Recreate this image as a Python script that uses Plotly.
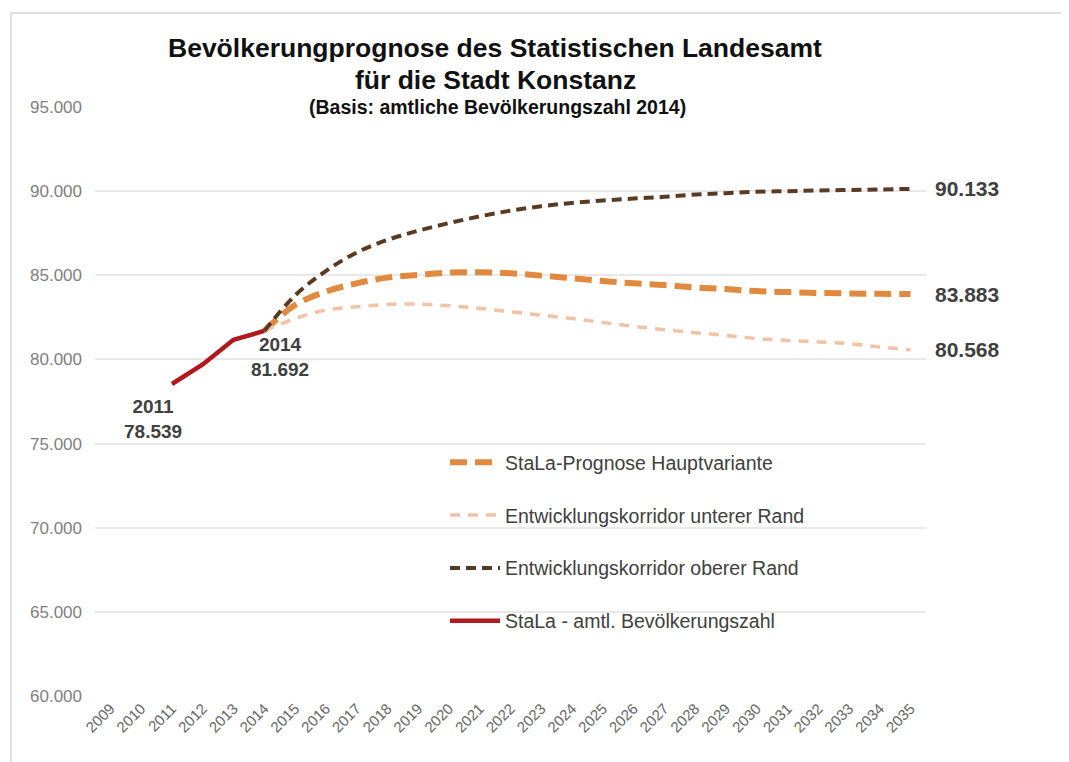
import plotly.graph_objects as go

# ---------------- data ----------------
years = [str(y) for y in range(2009, 2036)]

official_years = ["2011", "2012", "2013", "2014"]
official_values = [78539, 79700, 81170, 81692]

forecast_years = [str(y) for y in range(2014, 2036)]
main_values = [81692, 83230, 84030, 84520, 84860, 85020, 85160, 85180, 85120, 84980, 84820,
               84660, 84520, 84420, 84280, 84180, 84060, 84000, 83950, 83920, 83900, 83883]
upper_values = [81692, 83800, 85250, 86350, 87100, 87650, 88100, 88500, 88840, 89100, 89300,
                89440, 89560, 89660, 89800, 89880, 89960, 90000, 90040, 90070, 90100, 90133]
lower_values = [81692, 82430, 82930, 83130, 83270, 83290, 83190, 83030, 82830, 82630, 82430,
                82190, 81970, 81770, 81590, 81430, 81240, 81130, 81040, 80940, 80740, 80568]

series_names = ["StaLa-Prognose Hauptvariante",
                "Entwicklungskorridor unterer Rand",
                "Entwicklungskorridor oberer Rand",
                "StaLa - amtl. Bevölkerungszahl"]

y_ticks = [60000, 65000, 70000, 75000, 80000, 85000, 90000, 95000]

title_line1 = "Bevölkerungprognose des Statistischen Landesamt"
title_line2 = "für die Stadt Konstanz"
subtitle = "(Basis: amtliche Bevölkerungszahl 2014)"

# ---------------- style ----------------
FONT = "Liberation Sans, Arial, sans-serif"
C_MAIN = "#E0893F"
C_LOWER = "#F2C2A4"
C_UPPER = "#5B3A22"
C_OFF = "#B0191E"
TXT = "#404040"

# page has an 8px body margin -> figure coordinates = page coordinates - 8
OFF = 8
W, H = 1069 - OFF, 762 - OFF
ML, MR, MT, MB = 87, W - 918, 99, H - 688
PW = W - ML - MR
PH = H - MT - MB


def px_x(page_x):
    return (page_x - OFF - ML) / PW


def px_y(page_y):
    return (H - MB - (page_y - OFF)) / PH


def fmt(v):
    return f"{v:,}".replace(",", ".")


def idx(year):
    return years.index(year)


fig = go.Figure()

fig.add_trace(go.Scatter(
    x=forecast_years, y=main_values, name=series_names[0], mode="lines",
    line=dict(color=C_MAIN, width=6, dash="17px,8px", shape="spline", smoothing=1),
    legendgroup="a", legendrank=1))
fig.add_trace(go.Scatter(
    x=forecast_years, y=lower_values, name=series_names[1], mode="lines",
    line=dict(color=C_LOWER, width=3.5, dash="10px,8px", shape="spline", smoothing=1),
    legendgroup="b", legendrank=2))
fig.add_trace(go.Scatter(
    x=forecast_years, y=upper_values, name=series_names[2], mode="lines",
    line=dict(color=C_UPPER, width=4, dash="10px,6px", shape="spline", smoothing=1),
    legendgroup="c", legendrank=3))
fig.add_trace(go.Scatter(
    x=official_years, y=official_values, name=series_names[3], mode="lines",
    line=dict(color=C_OFF, width=4.5),
    legendgroup="d", legendrank=4))

annotations = []
# end labels
for vals in (upper_values, main_values, lower_values):
    annotations.append(dict(x=idx(forecast_years[-1]), y=vals[-1], xref="x", yref="y",
                            text=f"<b>{fmt(vals[-1])}</b>", showarrow=False, xanchor="left",
                            yanchor="middle", xshift=22,
                            font=dict(family=FONT, size=21, color=TXT)))
# start labels
annotations.append(dict(x=idx(official_years[0]), y=official_values[0], xref="x", yref="y",
                        text=f"<b>{official_years[0]}<br>{fmt(official_values[0])}</b>",
                        showarrow=False, xanchor="center", yanchor="middle",
                        xshift=-19, yshift=-35,
                        font=dict(family=FONT, size=19, color=TXT)))
annotations.append(dict(x=idx(official_years[-1]), y=official_values[-1], xref="x", yref="y",
                        text=f"<b>{official_years[-1]}<br>{fmt(official_values[-1])}</b>",
                        showarrow=False, xanchor="center", yanchor="middle",
                        xshift=16, yshift=-26,
                        font=dict(family=FONT, size=19, color=TXT)))

# titles
annotations.append(dict(x=px_x(495), y=px_y(48), xref="paper", yref="paper",
                        text=f"<b>{title_line1}</b>", showarrow=False,
                        xanchor="center", yanchor="middle",
                        font=dict(family=FONT, size=26.5, color="#111111")))
annotations.append(dict(x=px_x(495), y=px_y(80), xref="paper", yref="paper",
                        text=f"<b>{title_line2}</b>", showarrow=False,
                        xanchor="center", yanchor="middle",
                        font=dict(family=FONT, size=26.5, color="#111111")))
annotations.append(dict(x=px_x(497), y=px_y(107), xref="paper", yref="paper",
                        text=f"<b>{subtitle}</b>", showarrow=False,
                        xanchor="center", yanchor="middle",
                        font=dict(family=FONT, size=19.5, color="#111111")))

shapes = [
    # white box behind the title covering the top grid line
    dict(type="rect", xref="paper", yref="paper", x0=px_x(150), x1=px_x(840),
         y0=px_y(116), y1=px_y(98), fillcolor="white", line=dict(width=0), layer="above"),
    # frame of the original picture
    dict(type="line", xref="paper", yref="paper", x0=px_x(11), x1=px_x(1080),
         y0=px_y(13), y1=px_y(13), line=dict(color="#d4d4d4", width=1.5)),
    dict(type="line", xref="paper", yref="paper", x0=px_x(11), x1=px_x(11),
         y0=px_y(13), y1=px_y(780), line=dict(color="#d4d4d4", width=1.5)),
]

fig.update_layout(
    width=W, height=H,
    margin=dict(l=ML, r=MR, t=MT, b=MB, autoexpand=False),
    paper_bgcolor="white", plot_bgcolor="white",
    separators=",.",
    font=dict(family=FONT, color=TXT),
    showlegend=True,
    legend=dict(x=px_x(445), y=px_y(443), xanchor="left", yanchor="top",
                bgcolor="rgba(0,0,0,0)", font=dict(family=FONT, size=19.5, color=TXT),
                tracegroupgap=24.5, itemwidth=50),
    annotations=annotations,
    shapes=shapes,
    xaxis=dict(type="category", categoryorder="array", categoryarray=years,
               tickmode="array", tickvals=years, ticktext=years,
               tickangle=-45, tickfont=dict(family=FONT, size=15, color="#666666"),
               showgrid=False, showline=False, zeroline=False, ticks="",
               range=[-0.5, len(years) - 0.5]),
    yaxis=dict(range=[60000, 95000], tickvals=y_ticks, tickformat=",d",
               tickfont=dict(family=FONT, size=17, color="#808080"),
               showgrid=True, gridcolor="#e8e8e8", gridwidth=1.5,
               zeroline=False, showline=False, ticks="", ticklabelstandoff=12),
)

fig.write_html("out.html")
